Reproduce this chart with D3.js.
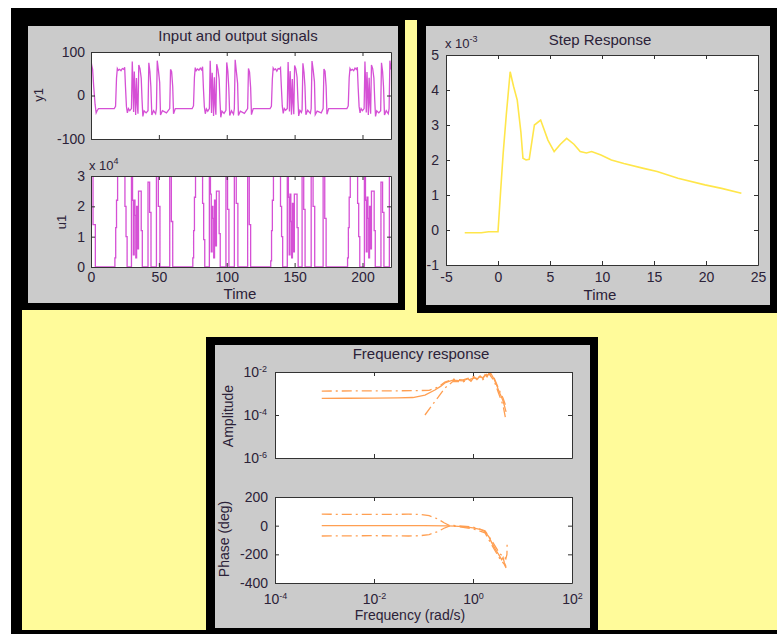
<!DOCTYPE html>
<html><head><meta charset="utf-8">
<script src="https://cdn.jsdelivr.net/npm/d3@7"></script>
<style>
body{margin:0;background:#fff;}
svg{display:block;}
text{font-family:"Liberation Sans",Arial,sans-serif;}
</style>
</head><body>
<svg id="c" width="777" height="634"></svg>
<script>
// ---------------- DATA ----------------
const timeTicks = [0, 50, 100, 150, 200];
const y1Ticks = [-100, 0, 100];
const u1Ticks = [0, 10000, 20000, 30000];

// u1 input: step changes [time, value]
const u1Steps = [
  [0,30000],[1.5,14000],[3.2,0],
  [17.6,3000],[18.2,13000],[18.8,22000],[19.6,30000],[25.0,20000],[25.8,10000],[26.6,0],
  [29.8,30000],[30.6,22000],[31.2,4000],[31.8,22000],[32.4,17000],[33.0,3000],[33.6,20000],[34.2,6000],[35.0,25000],[37.0,12000],[37.8,0],
  [42.0,28000],[43.2,18000],[44.2,0],
  [48.2,30000],[49.6,20000],[50.8,0],
  [58.0,30000],[59.2,15000],[60.2,0],
  [75.0,3000],[75.6,12000],[76.2,23000],[77.0,30000],[82.2,21000],[83.0,9000],[83.8,0],
  [87.2,30000],[88.0,24000],[88.6,5000],[89.2,20000],[89.8,16000],[90.4,3000],[91.0,22000],[91.6,7000],[92.4,25000],[94.4,11000],[95.2,0],
  [99.4,30000],[100.6,19000],[101.6,0],
  [105.6,30000],[107.0,21000],[108.2,0],
  [115.4,30000],[116.6,14000],[117.6,0],
  [132.4,2000],[133.0,12000],[133.6,22000],[134.4,30000],[139.6,20000],[140.4,10000],[141.2,0],
  [144.6,30000],[145.4,23000],[146.0,4000],[146.6,24000],[147.2,15000],[147.8,3000],[148.4,21000],[149.0,5000],[149.8,24000],[151.8,13000],[152.6,0],
  [155.5,30000],[156.7,19000],[157.7,0],
  [162.2,30000],[163.6,20000],[164.8,0],
  [171.0,30000],[172.2,16000],[173.2,0],
  [189.0,3000],[189.6,13000],[190.2,23000],[191.0,30000],[196.4,21000],[197.2,10000],[198.0,0],
  [201.4,30000],[202.2,22000],[202.8,5000],[203.4,23000],[204.0,16000],[204.6,3000],[205.2,20000],[205.8,6000],[206.6,25000],[208.6,12000],[209.4,0],
  [213.6,28000],[214.8,18000],[215.8,0],
  [219.8,30000],[221.5,20000]
];

// y1 output: [time, value]
const y1Series = [
  [0,80],[0.5,70],[1.2,60],[2.0,20],[3.0,-20],[3.8,-40],[4.5,-35],[5.5,-30],
  [17.1,-30],[18.1,-25],[18.8,40],[19.4,62],[20.1,58],[21.1,60],[22.1,57],[23.1,62],[24.1,60],[24.8,65],[25.4,20],[26.1,-25],[26.8,-40],[27.6,-30],[28.6,-35],[29.8,-30],[30.4,78],[31.0,20],[31.4,-38],[31.9,55],[32.4,10],[32.9,-45],[33.5,40],[34.1,-20],[34.6,-42],[35.2,70],[36.1,62],[37.0,40],[37.6,-10],[38.2,-48],[39.1,-35],[40.6,-40],[42.0,-35],[42.6,75],[43.4,55],[44.1,20],[44.8,-45],[46.1,-35],[47.6,-42],[48.2,-30],[48.8,80],[49.6,60],[50.6,30],[51.2,-45],[52.6,-35],[55.6,-40],[58.0,-30],[58.6,60],[59.4,55],[60.2,20],[60.8,-42],[62.1,-30],
  [74.5,-30],[75.5,-24],[76.2,42],[76.8,64],[77.5,57],[78.5,61],[79.5,58],[80.5,63],[81.5,59],[82.2,66],[82.8,18],[83.5,-26],[84.2,-42],[85.0,-31],[86.0,-36],[87.2,-30],[87.8,80],[88.4,22],[88.8,-40],[89.3,52],[89.8,8],[90.3,-47],[90.9,42],[91.5,-22],[92.0,-44],[92.6,72],[93.5,60],[94.4,38],[95.0,-12],[95.6,-50],[96.5,-36],[98.0,-41],[99.4,-34],[100.0,76],[100.8,56],[101.5,18],[102.2,-46],[103.5,-35],[105.0,-43],[105.6,-30],[106.2,82],[107.0,58],[108.0,28],[108.6,-46],[110.0,-36],[113.0,-41],[115.4,-30],[116.0,62],[116.8,54],[117.6,18],[118.2,-44],[119.5,-30],
  [131.9,-30],[132.9,-25],[133.6,38],[134.2,63],[134.9,59],[135.9,61],[136.9,56],[137.9,62],[138.9,61],[139.6,64],[140.2,22],[140.9,-24],[141.6,-41],[142.4,-30],[143.4,-34],[144.6,-30],[145.2,77],[145.8,18],[146.2,-37],[146.7,56],[147.2,12],[147.7,-44],[148.3,38],[148.9,-18],[149.4,-43],[150.0,69],[150.9,61],[151.8,42],[152.4,-8],[153.0,-47],[153.9,-34],[155.0,-39],[155.5,-33],[156.1,74],[156.9,54],[157.6,22],[158.3,-44],[159.6,-34],[161.6,-41],[162.2,-30],[162.8,79],[163.6,61],[164.6,32],[165.2,-44],[166.6,-36],[169.6,-40],[171.0,-30],[171.6,61],[172.4,56],[173.2,21],[173.8,-43],[175.1,-30],
  [188.5,-30],[189.5,-24],[190.2,41],[190.8,62],[191.5,58],[192.5,60],[193.5,57],[194.5,63],[195.5,60],[196.2,65],[196.8,19],[197.5,-25],[198.2,-40],[199.0,-30],[200.0,-35],[201.2,-30],[201.8,78],[202.4,20],[202.8,-39],[203.3,54],[203.8,11],[204.3,-45],[204.9,41],[205.5,-20],[206.0,-42],[206.6,70],[207.5,62],[208.4,40],[209.0,-10],[209.6,-48],[210.5,-35],[212.0,-40],[213.4,-35],[214.0,75],[214.8,55],[215.5,20],[216.2,-45],[217.5,-35],[219.0,-42],[219.6,-30],[220.2,80],[221.0,60]
];

// Step response (values in units of 1e-3)
const stepTime  = [-3.2,-2.4,-1.6,-0.9,0,0.25,0.5,0.8,1.17,1.5,1.85,2.2,2.4,2.7,3.0,3.5,4.1,4.8,5.4,6.0,6.6,7.3,7.9,8.5,9.0,9.9,10.9,12.1,14.0,15.3,17.3,19.9,21.5,23.4];
const stepValue = [-0.08,-0.08,-0.08,-0.05,-0.05,1.1,2.2,3.3,4.52,4.1,3.71,2.8,2.05,2.0,2.02,3.0,3.14,2.57,2.24,2.45,2.62,2.45,2.24,2.2,2.24,2.14,2.0,1.9,1.76,1.67,1.48,1.29,1.19,1.05];
const stepXTicks = [-5,0,5,10,15,20,25];
const stepYTicks = [-1,0,1,2,3,4,5];

// Frequency response
const freqTicks = [1e-4, 1e-2, 1, 1e2];
const ampTicks = [1e-6, 1e-4, 1e-2];
const phaseTicks = [-400, -200, 0, 200];
const ampSolid = [[8.8e-4,5.9e-4],[0.003,6.0e-4],[0.01,6.1e-4],[0.03,6.3e-4],[0.061,6.5e-4],[0.107,8.5e-4],[0.17,1.45e-3],[0.225,2.2e-3],[0.27,3.1e-3],[0.39,4.2e-3],[0.63,3.9e-3],[0.79,4.9e-3],[0.91,3.7e-3],[1.05,5.8e-3],[1.2,4.4e-3],[1.39,6.6e-3],[1.59,4.9e-3],[1.75,7.6e-3],[1.92,6.0e-3],[2.11,9.0e-3],[2.31,8.3e-3],[2.66,4.7e-3],[3.06,2.2e-3],[3.36,1.2e-3],[3.69,7.7e-4],[4.05,4.5e-4],[4.44,2.1e-4],[4.66,1.4e-4]];
const ampUpper = [[8.8e-4,1.3e-3],[0.01,1.32e-3],[0.06,1.35e-3],[0.13,1.4e-3],[0.2,2.0e-3],[0.27,3.4e-3],[0.39,4.6e-3],[0.63,4.3e-3],[1.05,6.3e-3],[1.59,5.5e-3],[2.11,9.6e-3],[2.66,5.4e-3],[3.36,1.5e-3],[4.05,6e-4],[4.5,3e-4]];
const ampLower = [[0.107,1.0e-4],[0.15,2.9e-4],[0.2,6.9e-4],[0.27,1.8e-3],[0.39,3.6e-3],[0.63,3.5e-3],[1.05,5.3e-3],[1.59,4.4e-3],[2.11,8.2e-3],[2.66,4.0e-3],[3.36,9e-4],[4.05,2.8e-4],[4.6,6e-5]];
const phaseSolid = [[8.8e-4,0],[0.01,0],[0.1,0],[0.3,-1],[0.43,-3],[0.69,-8],[1.0,-16],[1.39,-25],[1.75,-42],[2.11,-80],[2.4,-120],[2.9,-170],[3.5,-216],[3.8,-238],[4.05,-222],[4.3,-258],[4.66,-286]];
const phaseUpper = [[8.8e-4,80],[0.01,78],[0.05,80],[0.085,79],[0.13,70],[0.2,45],[0.26,20],[0.33,3],[0.5,0],[1.0,-10],[1.75,-35],[2.4,-105],[3.5,-198],[4.2,-215],[4.6,-232],[4.85,-200],[4.9,-112]];
const phaseLower = [[8.8e-4,-72],[0.01,-70],[0.05,-72],[0.085,-70],[0.13,-62],[0.2,-40],[0.26,-18],[0.33,-3],[0.5,-6],[1.0,-22],[1.75,-50],[2.4,-135],[3.5,-232],[4.3,-270],[4.66,-295]];

// ---------------- DRAWING ----------------
const TXT = "#2b2238";
const AXC = "#333";
const MAG = "#d550d5";
const ORG = "#ff9f52";
const svg = d3.select("#c");
let clipN = 0;

svg.append("rect").attr("width",777).attr("height",634).attr("fill","#fff");
svg.append("rect").attr("x",11).attr("y",8).attr("width",766).attr("height",626).attr("fill","#000");
svg.append("rect").attr("x",22).attr("y",310).attr("width",755).attr("height",320).attr("fill","#fffb9a");
svg.append("rect").attr("x",405).attr("y",20).attr("width",12).attr("height",292).attr("fill","#fffb9a");
svg.append("rect").attr("x",417).attr("y",309).attr("width",360).attr("height",4).attr("fill","#000");
svg.append("rect").attr("x",28).attr("y",26).attr("width",370).attr("height",277).attr("fill","#cbcbcb");
svg.append("rect").attr("x",426).attr("y",26).attr("width",344).attr("height",279).attr("fill","#cbcbcb");
svg.append("rect").attr("x",206).attr("y",337).attr("width",392).attr("height",297).attr("fill","#000");
svg.append("rect").attr("x",215).attr("y",345).attr("width",375).attr("height",283).attr("fill","#cbcbcb");

function styleAxis(a, fs){
  a.attr("font-family",null).attr("font-size",null);
  a.selectAll(".domain").attr("stroke",AXC);
  a.selectAll(".tick line").attr("stroke",AXC);
  a.selectAll(".tick text").attr("fill",TXT).style("font-size",fs+"px").style("font-family",'"Liberation Sans",Arial,sans-serif');
}
function supLabels(a){
  a.selectAll(".tick text").each(function(d){
    const t=d3.select(this); const e=Math.round(Math.log10(d));
    t.text("10"); t.append("tspan").attr("dy","-0.6em").style("font-size","9px").text(e);
  });
}

function plot(x0,y0,w,h,xs,ys,cfg,draw){
  xs.range([0,w]); ys.range([h,0]);
  const g=svg.append("g").attr("transform",`translate(${x0},${y0})`);
  g.append("rect").attr("width",w).attr("height",h).attr("fill","#fff");
  const id="clip"+(clipN++);
  g.append("clipPath").attr("id",id).append("rect").attr("width",w).attr("height",h);
  const dg=g.append("g").attr("clip-path",`url(#${id})`);
  draw(dg,xs,ys);
  const fs=cfg.fs||14;
  const b=g.append("g").attr("transform",`translate(0,${h})`)
    .call(d3.axisBottom(xs).tickValues(cfg.xTicks).tickSize(-4).tickSizeOuter(0).tickPadding(cfg.xPad||5)
      .tickFormat(cfg.xFmt||(()=>"")));
  styleAxis(b,fs); if(cfg.xSup) supLabels(b);
  const t=g.append("g").call(d3.axisTop(xs).tickValues(cfg.xTicks).tickSize(-4).tickSizeOuter(0).tickFormat(()=>""));
  styleAxis(t,fs);
  const l=g.append("g").call(d3.axisLeft(ys).tickValues(cfg.yTicks).tickSize(-4).tickSizeOuter(0).tickPadding(cfg.yPad||6)
      .tickFormat(cfg.yFmt||(d=>String(d))));
  styleAxis(l,fs); if(cfg.ySup) supLabels(l);
  const r=g.append("g").attr("transform",`translate(${w},0)`)
    .call(d3.axisRight(ys).tickValues(cfg.yTicks).tickSize(-4).tickSizeOuter(0).tickFormat(()=>""));
  styleAxis(r,fs);
  return g;
}
function label(x,y,s,fs,rot){
  const t=svg.append("text").attr("fill",TXT).style("font-size",fs+"px").attr("text-anchor","middle");
  if(rot){ t.attr("transform",`translate(${x},${y}) rotate(-90)`).attr("dy","0.35em"); }
  else { t.attr("x",x).attr("y",y); }
  t.text(s); return t;
}
function expo(x,y,base,e){
  const t=svg.append("text").attr("x",x).attr("y",y).attr("fill",TXT).style("font-size","13px").text(base);
  t.append("tspan").attr("dy","-6").style("font-size","9px").text(e);
}

// ---- Panel 1: Input and output signals ----
label(238,41,"Input and output signals",15);
plot(91,52,300,87,d3.scaleLinear().domain([0,221]),d3.scaleLinear().domain([-100,100]),
  {xTicks:timeTicks,yTicks:y1Ticks},
  (g,xs,ys)=>{
    g.append("path").datum(y1Series).attr("fill","none").attr("stroke",MAG).attr("stroke-width",1.3)
      .attr("d",d3.line().x(d=>xs(d[0])).y(d=>ys(d[1])));
  });
label(38.5,95,"y1",13,true);

plot(91,176,300,91,d3.scaleLinear().domain([0,221]),d3.scaleLinear().domain([0,30000]),
  {xTicks:timeTicks,yTicks:u1Ticks,xFmt:d=>String(d),yFmt:d=>String(d/1e4),xPad:5},
  (g,xs,ys)=>{
    g.append("path").datum(u1Steps.concat([[221,20000]])).attr("fill","none").attr("stroke",MAG).attr("stroke-width",1.3)
      .attr("d",d3.line().curve(d3.curveStepAfter).x(d=>xs(d[0])).y(d=>ys(d[1])));
  });
label(61.5,222,"u1",13,true);
expo(89,170,"x 10","4");
label(240,299,"Time",15);

// ---- Panel 2: Step Response ----
label(600,45,"Step Response",15);
plot(446,55,312,210,d3.scaleLinear().domain([-5,25]),d3.scaleLinear().domain([-1,5]),
  {xTicks:stepXTicks,yTicks:stepYTicks,xFmt:d=>String(d),xPad:7.5,yPad:7},
  (g,xs,ys)=>{
    const pts=stepTime.map((t,i)=>[t,stepValue[i]]);
    g.append("path").datum(pts).attr("fill","none").attr("stroke","#ffe64a").attr("stroke-width",1.6)
      .attr("d",d3.line().x(d=>xs(d[0])).y(d=>ys(d[1])));
  });
expo(445,48,"x 10","-3");
label(600,300,"Time",15);

// ---- Panel 3: Frequency response ----
label(421,359,"Frequency response",15);
const dashDot="10,4,2,4";
plot(275,372,297,86,d3.scaleLog().domain([1e-4,1e2]),d3.scaleLog().domain([1e-6,1e-2]),
  {xTicks:freqTicks,yTicks:ampTicks,ySup:true,yPad:8},
  (g,xs,ys)=>{
    const ln=d3.line().x(d=>xs(d[0])).y(d=>ys(d[1]));
    g.append("path").datum(ampSolid).attr("fill","none").attr("stroke",ORG).attr("stroke-width",1.3).attr("d",ln);
    g.append("path").datum(ampUpper).attr("fill","none").attr("stroke",ORG).attr("stroke-width",1.3).attr("stroke-dasharray",dashDot).attr("d",ln);
    g.append("path").datum(ampLower).attr("fill","none").attr("stroke",ORG).attr("stroke-width",1.3).attr("stroke-dasharray",dashDot).attr("d",ln);
  });
label(228,416,"Amplitude",14,true);

plot(275,497,297,86,d3.scaleLog().domain([1e-4,1e2]),d3.scaleLinear().domain([-400,200]),
  {xTicks:freqTicks,yTicks:phaseTicks,xSup:true,xFmt:d=>String(d),xPad:11,yPad:7},
  (g,xs,ys)=>{
    const ln=d3.line().x(d=>xs(d[0])).y(d=>ys(d[1]));
    g.append("path").datum(phaseSolid).attr("fill","none").attr("stroke",ORG).attr("stroke-width",1.3).attr("d",ln);
    g.append("path").datum(phaseUpper).attr("fill","none").attr("stroke",ORG).attr("stroke-width",1.3).attr("stroke-dasharray",dashDot).attr("d",ln);
    g.append("path").datum(phaseLower).attr("fill","none").attr("stroke",ORG).attr("stroke-width",1.3).attr("stroke-dasharray",dashDot).attr("d",ln);
  });
label(224,539,"Phase (deg)",14,true);
label(410,620,"Frequency (rad/s)",14);
</script>
</body></html>
